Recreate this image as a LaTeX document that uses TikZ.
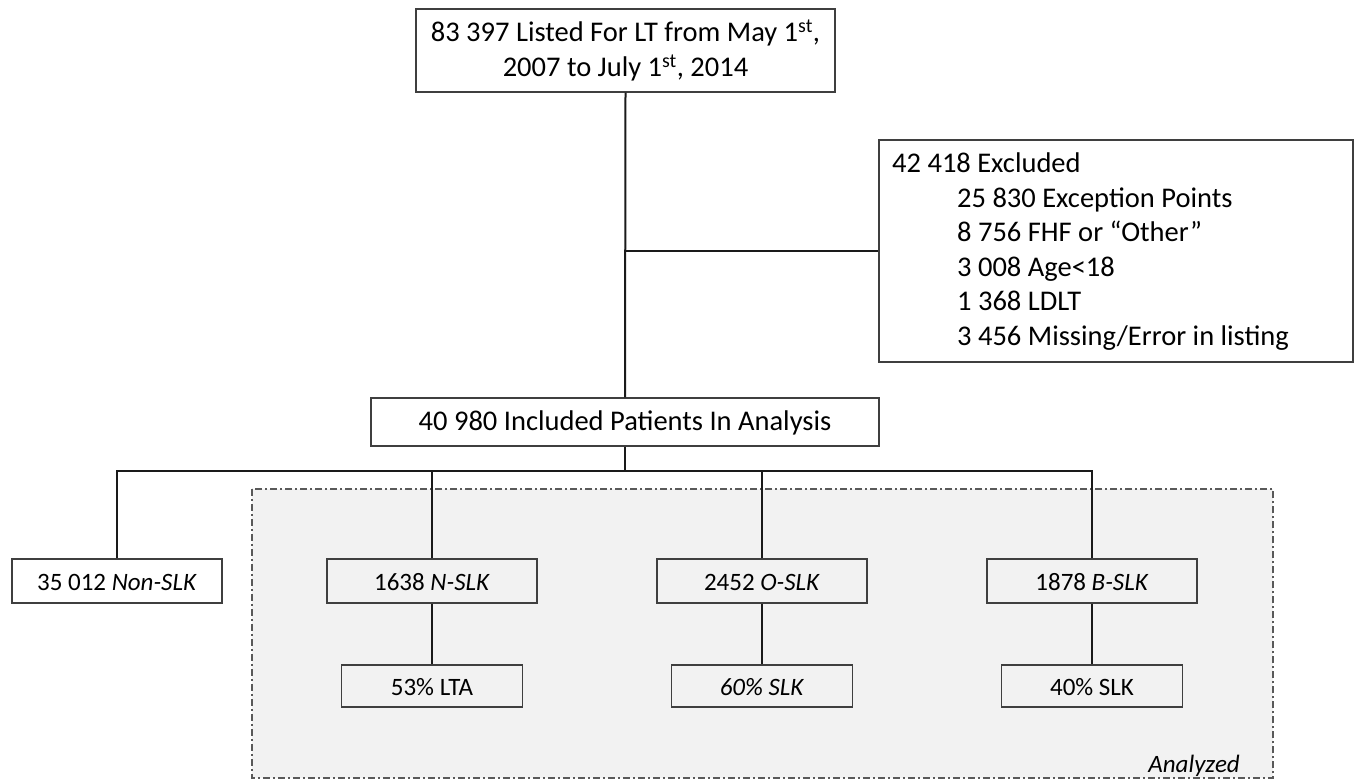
\documentclass[tikz,border=0pt]{standalone}
\usepackage{fontspec}
\setmainfont{Carlito}
\definecolor{boxc}{HTML}{3F3F3F}
\definecolor{linec}{HTML}{1A1A1A}
\definecolor{regc}{HTML}{F2F2F2}
\definecolor{dashc}{HTML}{595959}
\begin{document}
\begin{tikzpicture}[x=1pt,y=-1pt,
  box/.style={draw=boxc, line width=1.3pt, inner sep=0pt, align=center,
    font=\fontsize{28.5}{34.5}\selectfont},
  bbox/.style={box, text height=21pt, text depth=5pt},
  sbox/.style={box, font=\fontsize{25}{30}\selectfont, text height=20pt, text depth=2pt},
  conn/.style={draw=linec, line width=2pt},
  region/.style={fill=regc, draw=dashc, line width=1.3pt,
    dash pattern=on 7pt off 3pt on 2pt off 3pt}]
\useasboundingbox (0,0) rectangle (1360,779);
\path[region] (252,489) rectangle (1273,778);

\node[box, minimum width=419pt, minimum height=83pt] (top) at (625.5,50.5)
  {83 397 Listed For LT from May 1\textsuperscript{st},\\2007 to July 1\textsuperscript{st}, 2014};
\node[box, minimum width=474pt, minimum height=222pt] (excl) at (1116,251) {};
\node[anchor=north west, inner sep=0pt, align=left,
  font=\fontsize{28.5}{34.5}\selectfont] (exclt) at (892,153)
  {42 418 Excluded\\
   \hspace*{65pt}25 830 Exception Points\\
   \hspace*{65pt}8 756 FHF or “Other”\\
   \hspace*{65pt}3 008 Age<18\\
   \hspace*{65pt}1 368 LDLT\\
   \hspace*{65pt}3 456 Missing/Error in listing};
\node[bbox, minimum width=508pt, minimum height=48pt] (incl) at (625,422) {40 980 Included Patients In Analysis};

\node[sbox, minimum width=210pt, minimum height=44pt] (nonslk) at (117,581) {35 012 \textit{Non-SLK}};
\node[sbox, minimum width=210pt, minimum height=44pt] (nslk) at (432,581) {1638 \textit{N-SLK}};
\node[sbox, minimum width=210pt, minimum height=44pt] (oslk) at (762,581) {2452 \textit{O-SLK}};
\node[sbox, minimum width=210pt, minimum height=44pt] (bslk) at (1092,581) {1878 \textit{B-SLK}};

\node[sbox, minimum width=181pt, minimum height=42pt] (lta) at (432,686) {53\% LTA};
\node[sbox, minimum width=181pt, minimum height=42pt] (slksixty) at (762,686) {\textit{60\% SLK}};
\node[sbox, minimum width=181pt, minimum height=42pt] (slkforty) at (1092,686) {40\% SLK};

\node[anchor=base east, inner sep=0pt, font=\fontsize{25}{30}\selectfont\itshape] (anl) at (1240,772) {Analyzed};

\coordinate (hb) at (625,471);
\draw[conn] (top.south) -- (incl.north);
\draw[conn] (top.south |- excl.west) -- (excl.west);
\draw[conn] (incl.south) -- (hb);
\draw[conn] (nonslk.north) |- (bslk.north |- hb) -- (bslk.north);
\draw[conn] (nslk.north) -- (nslk.north |- hb);
\draw[conn] (oslk.north) -- (oslk.north |- hb);
\draw[conn] (nslk.south) -- (lta.north);
\draw[conn] (oslk.south) -- (slksixty.north);
\draw[conn] (bslk.south) -- (slkforty.north);
\end{tikzpicture}
\end{document}
